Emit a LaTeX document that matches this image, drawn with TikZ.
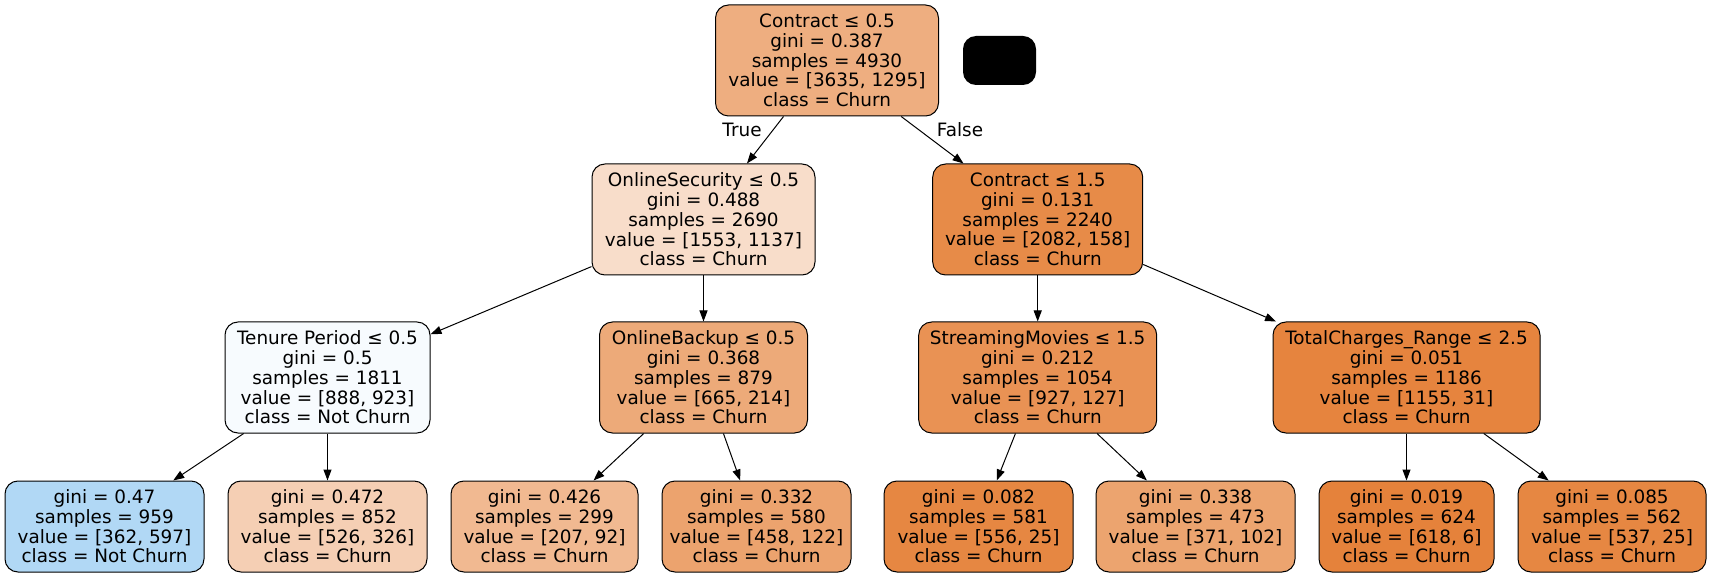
\documentclass[tikz,border=0pt]{standalone}
\usepackage{fontspec}
\setmainfont{DejaVu Sans}
\usetikzlibrary{arrows.meta}
\definecolor{churn}{RGB}{229,129,57}
\definecolor{notchurn}{RGB}{57,157,229}
\begin{document}
\begin{tikzpicture}[x=1pt,y=-1pt,
  tn/.style={draw=black, line width=1pt, rounded corners=13pt, align=center,
    inner sep=0pt, font=\fontsize{18.4}{19.7}\selectfont},
  edge/.style={line width=1pt, -{Triangle[length=11pt,width=8pt]}},
  lbl/.style={font=\fontsize{18.4}{19.7}\selectfont, inner sep=0pt}]
\useasboundingbox (0,0) rectangle (1711,577);
\node[tn, fill=churn!64.3!white, minimum width=223pt, minimum height=111pt] (root) at (827,60.5)
  {Contract ≤ 0.5\\gini = 0.387\\samples = 4930\\value = [3635, 1295]\\class = Churn};
\node[fill=black, rounded corners=13pt, minimum width=73pt, minimum height=49pt, inner sep=0pt] (blk) at (999.5,60.5) {};
\node[tn, fill=churn!26.8!white, minimum width=223pt, minimum height=111pt] (os) at (703.5,219.5)
  {OnlineSecurity ≤ 0.5\\gini = 0.488\\samples = 2690\\value = [1553, 1137]\\class = Churn};
\node[tn, fill=churn!92.4!white, minimum width=210pt, minimum height=111pt] (c15) at (1037.7,219.5)
  {Contract ≤ 1.5\\gini = 0.131\\samples = 2240\\value = [2082, 158]\\class = Churn};
\node[tn, fill=notchurn!3.8!white, minimum width=205pt, minimum height=111pt] (ten) at (327.5,377.5)
  {Tenure Period ≤ 0.5\\gini = 0.5\\samples = 1811\\value = [888, 923]\\class = Not Churn};
\node[tn, fill=churn!67.8!white, minimum width=208pt, minimum height=111pt] (ob) at (703.5,377.5)
  {OnlineBackup ≤ 0.5\\gini = 0.368\\samples = 879\\value = [665, 214]\\class = Churn};
\node[tn, fill=churn!86.3!white, minimum width=238pt, minimum height=111pt] (sm) at (1037.7,377.5)
  {StreamingMovies ≤ 1.5\\gini = 0.212\\samples = 1054\\value = [927, 127]\\class = Churn};
\node[tn, fill=churn!97.3!white, minimum width=267pt, minimum height=111pt] (tc) at (1406.5,377.5)
  {TotalCharges\_Range ≤ 2.5\\gini = 0.051\\samples = 1186\\value = [1155, 31]\\class = Churn};
\node[tn, fill=notchurn!39.4!white, minimum width=199pt, minimum height=91pt] (l1) at (104.5,526.5)
  {gini = 0.47\\samples = 959\\value = [362, 597]\\class = Not Churn};
\node[tn, fill=churn!38!white, minimum width=199pt, minimum height=91pt] (l2) at (327.5,526.5)
  {gini = 0.472\\samples = 852\\value = [526, 326]\\class = Churn};
\node[tn, fill=churn!55.6!white, minimum width=187pt, minimum height=91pt] (l3) at (544.5,526.5)
  {gini = 0.426\\samples = 299\\value = [207, 92]\\class = Churn};
\node[tn, fill=churn!73.4!white, minimum width=189pt, minimum height=91pt] (l4) at (756.5,526.5)
  {gini = 0.332\\samples = 580\\value = [458, 122]\\class = Churn};
\node[tn, fill=churn!95.5!white, minimum width=189pt, minimum height=91pt] (l5) at (978.5,526.5)
  {gini = 0.082\\samples = 581\\value = [556, 25]\\class = Churn};
\node[tn, fill=churn!72.5!white, minimum width=199pt, minimum height=91pt] (l6) at (1195.5,526.5)
  {gini = 0.338\\samples = 473\\value = [371, 102]\\class = Churn};
\node[tn, fill=churn!99!white, minimum width=175pt, minimum height=91pt] (l7) at (1406.5,526.5)
  {gini = 0.019\\samples = 624\\value = [618, 6]\\class = Churn};
\node[tn, fill=churn!95.3!white, minimum width=188pt, minimum height=91pt] (l8) at (1612,526.5)
  {gini = 0.085\\samples = 562\\value = [537, 25]\\class = Churn};
\draw[edge] (root) -- (os);
\draw[edge] (root) -- (c15);
\draw[edge] (os) -- (ten);
\draw[edge] (os) -- (ob);
\draw[edge] (c15) -- (sm);
\draw[edge] (c15) -- (tc);
\draw[edge] (ten) -- (l1);
\draw[edge] (ten) -- (l2);
\draw[edge] (ob) -- (l3);
\draw[edge] (ob) -- (l4);
\draw[edge] (sm) -- (l5);
\draw[edge] (sm) -- (l6);
\draw[edge] (tc) -- (l7);
\draw[edge] (tc) -- (l8);
\node[lbl] (tlab) at (742,130) {True};
\node[lbl] (flab) at (960,130) {False};
\end{tikzpicture}
\end{document}
